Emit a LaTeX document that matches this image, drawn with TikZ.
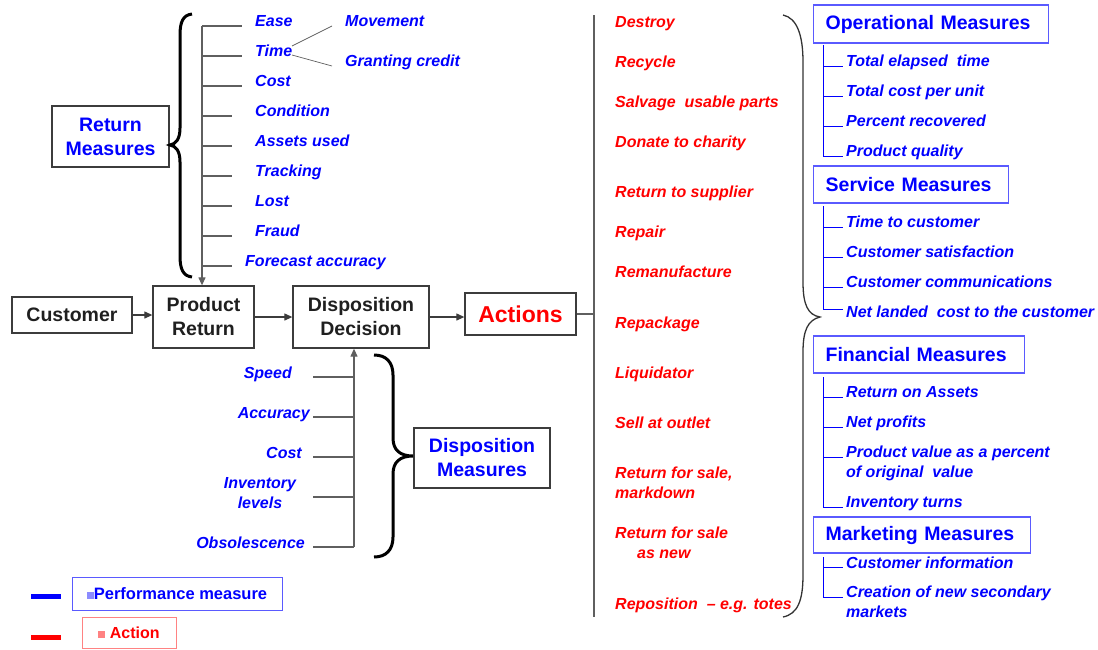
\documentclass[tikz,border=0pt]{standalone}
\usepackage{fontspec}
\setmainfont{Liberation Sans}
\usetikzlibrary{arrows.meta}
\definecolor{mblue}{RGB}{0,0,255}
\definecolor{mred}{RGB}{255,0,0}
\definecolor{bblue}{RGB}{90,90,255}
\definecolor{lblue}{RGB}{140,140,255}
\definecolor{lred}{RGB}{255,130,130}
\definecolor{lgray}{RGB}{95,95,95}
\definecolor{bgray}{RGB}{60,60,60}
\newcommand\labfont{\fontsize{16}{20}\selectfont\bfseries\itshape}
\newcommand\boxfont{\fontsize{19.5}{24}\selectfont\bfseries}
\begin{document}
\begin{tikzpicture}[x=1pt,y=-1pt,
  lab/.style={font=\labfont, text=mblue, inner sep=0pt, anchor=base west, align=left},
  labr/.style={lab, anchor=base east, align=right},
  act/.style={font=\labfont, text=mred, inner sep=0pt, anchor=base west, align=left},
  box/.style={draw=bgray, line width=1.3pt, font=\boxfont, align=center, inner sep=0pt, text=black!88},
  mbox/.style={draw=bblue, line width=1.3pt, font=\boxfont, text=mblue, anchor=west, align=left, inner xsep=12pt, inner ysep=0pt},
  gline/.style={draw=lgray, line width=1.2pt},
  arr/.style={draw=bgray, line width=1.2pt, -{Triangle[length=8pt,width=7pt]}},
  tree/.style={draw=mblue, line width=0.9pt},
  brace/.style={draw=black, line width=3pt},
  thinbrace/.style={draw=black!80, line width=1.3pt}
]
\useasboundingbox (0,0) rectangle (1098,649);

% main flow
\node[box, minimum width=120, minimum height=36] (cust) at (72,315) {Customer};
\node[box, minimum width=101, minimum height=62] (pr) at (203.5,317) {Product\\Return};
\node[box, minimum width=136, minimum height=62] (dd) at (361,317) {Disposition\\Decision};
\node[box, minimum width=111, minimum height=42, text=mred, font=\fontsize{23}{28}\selectfont\bfseries] (act) at (520.5,314) {Actions};
\node[box, text=mblue, minimum width=117, minimum height=61] (rm) at (110.5,136.5) {Return\\Measures};
\node[box, text=mblue, minimum width=136, minimum height=60] (dm) at (482,458) {Disposition\\Measures};

\draw[arr] (cust.east) -- (cust.east -| pr.west);
\draw[arr] (pr.east) -- (dd.west);
\draw[arr] (dd.east) -- (dd.east -| act.west);

\coordinate (vtop) at (594,15);
\coordinate (vbot) at (594,617);
\draw[draw=lgray, line width=2.4pt] (vtop) -- (vbot);
\draw[draw=lgray, line width=2pt] (act.east) -- (act.east -| vtop);

% return measures tree
\coordinate (rt) at (202,26);
\draw[arr, lgray] (rt) -- (rt |- pr.north);
\foreach \y/\e in {26/242,56/242,86/242,116/232,146/232,176/232,206/232,236/232,266/232}
  \draw[gline] (202,\y) -- (\e,\y);
\node[lab] (ease) at (255,26.5) {Ease};
\node[lab] (time) at (255,56.5) {Time};
\node[lab] (cost) at (255,86.5) {Cost};
\node[lab] (cond) at (255,116.5) {Condition};
\node[lab] (assets) at (255,146.5) {Assets used};
\node[lab] (track) at (255,176.5) {Tracking};
\node[lab] (lost) at (255,206.5) {Lost};
\node[lab] (fraud) at (255,236.5) {Fraud};
\node[lab] (fore) at (245,266.5) {Forecast accuracy};
\node[lab] (move) at (345,26.5) {Movement};
\node[lab] (grant) at (345,66.5) {Granting credit};
\coordinate (t1) at (292,46);
\coordinate (t2) at (292,55);
\coordinate (m1) at (332,26);
\coordinate (g1) at (332,66);
\draw[draw=lgray, line width=0.7pt] (t1) -- (m1);
\draw[draw=lgray, line width=0.7pt] (t2) -- (g1);

\draw[brace] (192,14) .. controls (183,15) and (180,22) .. (180,35) -- (180,128)
  .. controls (180,139) and (176,144) .. (170,145)
  .. controls (176,146) and (180,151) .. (180,162) -- (180,256)
  .. controls (180,269) and (183,276) .. (192,277);

% disposition measures tree
\coordinate (dt) at (354,547);
\draw[arr, lgray] (dt) -- (dt |- dd.south);
\foreach \y in {377,417,457,497,547}
  \draw[gline] (313,\y) -- (354,\y);
\node[labr] (speed) at (292,378) {Speed};
\node[labr] (accu) at (310,418) {Accuracy};
\node[labr] (dcost) at (302,458) {Cost};
\node[lab, align=center, anchor=base] (inv) at (260,508.5) {Inventory\\levels};
\node[labr] (obs) at (305,548) {Obsolescence};

\draw[brace] (374,355) .. controls (386,355) and (393,362) .. (393,375) -- (393,438)
  .. controls (393,450) and (400,456) .. (413,456)
  .. controls (400,456) and (393,462) .. (393,474) -- (393,537)
  .. controls (393,550) and (386,557) .. (374,557);

% actions
\node[act] (a1) at (615,27) {Destroy};
\node[act] (a2) at (615,67) {Recycle};
\node[act] (a3) at (615,107) {Salvage\ \ usable parts};
\node[act] (a4) at (615,147) {Donate to charity};
\node[act] (a5) at (615,197) {Return to supplier};
\node[act] (a6) at (615,237) {Repair};
\node[act] (a7) at (615,277) {Remanufacture};
\node[act] (a8) at (615,328) {Repackage};
\node[act] (a9) at (615,378) {Liquidator};
\node[act] (a10) at (615,428) {Sell at outlet};
\node[act] (a11) at (615,498) {Return for sale,\\markdown};
\node[act] (a12) at (615,558) {Return for sale\\\hspace*{22pt}as new};
\node[act] (a13) at (615,609) {Reposition\ \ -- e.g. totes};

\draw[thinbrace] (783,15) .. controls (797,18) and (803,35) .. (803,62) -- (803,282)
  .. controls (803,305) and (808,315) .. (820,317)
  .. controls (808,320) and (803,330) .. (803,352) -- (803,575)
  .. controls (803,600) and (798,614) .. (783,617);

% measures boxes
\node[mbox, text width=211, minimum height=38] (om) at (813,24) {Operational Measures};
\node[mbox, text width=171, minimum height=37] (sm) at (813,184.5) {Service Measures};
\node[mbox, text width=187, minimum height=37] (fm) at (813,354.5) {Financial Measures};
\node[mbox, text width=193, minimum height=36] (km) at (813,535) {Marketing Measures};

% operational
\coordinate (o0) at (823,45);
\draw[tree] (o0) -- (823,156);
\foreach \y in {66,96,126,156} \draw[tree] (823,\y) -- (843,\y);
\node[lab] (o1) at (846,66.5) {Total elapsed\ \ time};
\node[lab] (o2) at (846,96.5) {Total cost per unit};
\node[lab] (o3) at (846,126.5) {Percent recovered};
\node[lab] (o4) at (846,156.5) {Product quality};

% service
\coordinate (s0) at (823,206);
\draw[tree] (s0) -- (823,309);
\foreach \y in {227,257,287,309} \draw[tree] (823,\y) -- (843,\y);
\node[lab] (s1) at (846,227.5) {Time to customer};
\node[lab] (s2) at (846,257.5) {Customer satisfaction};
\node[lab] (s3) at (846,287.5) {Customer communications};
\node[lab] (s4) at (846,317) {Net landed\ \ cost to the customer};

% financial
\coordinate (f0) at (823,377);
\draw[tree] (f0) -- (823,507);
\foreach \y in {397,427,457,507} \draw[tree] (823,\y) -- (843,\y);
\node[lab] (f1) at (846,397.5) {Return on Assets};
\node[lab] (f2) at (846,427.5) {Net profits};
\node[lab] (f3) at (846,477.5) {Product value as a percent\\of original\ \ value};
\node[lab] (f4) at (846,507.5) {Inventory turns};

% marketing
\coordinate (k0) at (823,557);
\draw[tree] (k0) -- (823,597);
\foreach \y in {567,597} \draw[tree] (823,\y) -- (843,\y);
\node[lab] (k1) at (846,568.5) {Customer information};
\node[lab] (k2) at (846,617.5) {Creation of new secondary\\markets};

% legend
\node[fill=mblue, minimum width=30, minimum height=5, inner sep=0pt] (lbb) at (46,596.5) {};
\node[draw=bblue, line width=1pt, minimum width=210, minimum height=33, inner sep=0pt,
  font=\fontsize{16.5}{20}\selectfont\bfseries, text=mblue] (lbx) at (177,593.5)
  {{\color{lblue}\rule{7pt}{7pt}}Performance measure};
\node[fill=mred, minimum width=30, minimum height=5, inner sep=0pt] (lrb) at (46,637.5) {};
\node[draw=lred, line width=1pt, minimum width=94, minimum height=31, inner sep=0pt,
  font=\fontsize{16}{20}\selectfont\bfseries, text=mred] (lrx) at (129,632.5)
  {{\color{lred}\rule{7pt}{7pt}} Action};
\end{tikzpicture}
\end{document}
